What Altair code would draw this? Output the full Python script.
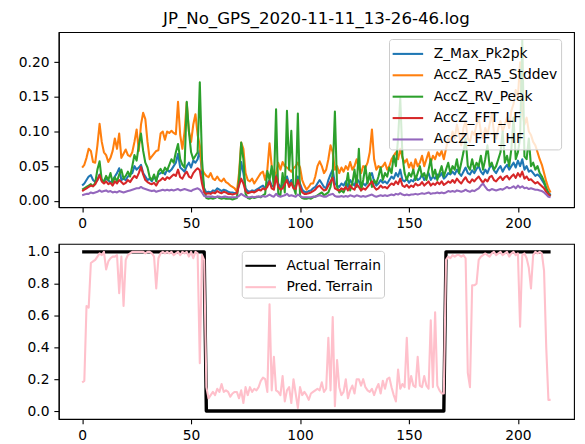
import altair as alt
import pandas as pd

TITLE = "JP_No_GPS_2020-11-11_13-26-46.log"
NAMES = ["Z_Max_Pk2pk", "AccZ_RA5_Stddev", "AccZ_RV_Peak", "AccZ_FFT_LF", "AccZ_FFT_HF"]
COLORS = ["#1f77b4", "#ff7f0e", "#2ca02c", "#d62728", "#9467bd"]
X_TICKS = [0, 50, 100, 150, 200]
TOP_TICKS = [0.0, 0.05, 0.10, 0.15, 0.20]
BOT_TICKS = [0.0, 0.2, 0.4, 0.6, 0.8, 1.0]

z_max_pk2pk = [
    0.022, 0.025, 0.030, 0.035, 0.037, 0.030, 0.027, 0.030, 0.038, 0.030,
    0.028, 0.032, 0.030, 0.026, 0.030, 0.035, 0.040, 0.047, 0.030, 0.032,
    0.030, 0.035, 0.038, 0.040, 0.050, 0.045, 0.048, 0.052, 0.040, 0.035,
    0.030, 0.032, 0.028, 0.035, 0.030, 0.038, 0.040, 0.042, 0.038, 0.045,
    0.042, 0.045, 0.050, 0.055, 0.068, 0.048, 0.045, 0.042, 0.050, 0.055,
    0.048, 0.058, 0.055, 0.060, 0.073, 0.040, 0.018, 0.012, 0.013, 0.012,
    0.015, 0.014, 0.018, 0.016, 0.014, 0.016, 0.015, 0.013, 0.012, 0.012,
    0.011, 0.012, 0.025, 0.056, 0.040, 0.018, 0.014, 0.013, 0.015, 0.014,
    0.016, 0.018, 0.020, 0.022, 0.018, 0.025, 0.030, 0.022, 0.020, 0.040,
    0.025, 0.020, 0.022, 0.028, 0.035, 0.024, 0.030, 0.022, 0.020, 0.035,
    0.025, 0.016, 0.013, 0.012, 0.014, 0.015, 0.018, 0.020, 0.025, 0.030,
    0.025, 0.020, 0.018, 0.030, 0.038, 0.045, 0.025, 0.022, 0.020, 0.025,
    0.022, 0.028, 0.020, 0.030, 0.025, 0.022, 0.032, 0.028, 0.020, 0.025,
    0.022, 0.028, 0.035, 0.040, 0.028, 0.022, 0.025, 0.030, 0.026, 0.028,
    0.025, 0.030, 0.035, 0.032, 0.040, 0.035, 0.045, 0.030, 0.028, 0.032,
    0.026, 0.030, 0.028, 0.035, 0.030, 0.032, 0.038, 0.030, 0.035, 0.040,
    0.030, 0.035, 0.032, 0.038, 0.035, 0.040, 0.032, 0.035, 0.040, 0.038,
    0.042, 0.038, 0.045, 0.040, 0.036, 0.042, 0.048, 0.040, 0.038, 0.044,
    0.040, 0.046, 0.050, 0.042, 0.038, 0.045, 0.040, 0.048, 0.052, 0.044,
    0.040, 0.046, 0.050, 0.042, 0.048, 0.052, 0.045, 0.050, 0.055, 0.048,
    0.058, 0.050, 0.060, 0.045, 0.050, 0.042, 0.044, 0.040, 0.036, 0.038,
    0.035, 0.030, 0.025, 0.018, 0.012, 0.008,
]

accz_ra5_stddev = [
    0.048, 0.052, 0.062, 0.075, 0.072, 0.056, 0.055, 0.080, 0.111, 0.085,
    0.070, 0.066, 0.056, 0.062, 0.072, 0.090, 0.075, 0.097, 0.062, 0.068,
    0.074, 0.066, 0.064, 0.070, 0.085, 0.103, 0.072, 0.110, 0.127, 0.118,
    0.085, 0.060, 0.064, 0.068, 0.072, 0.073, 0.097, 0.100, 0.088, 0.100,
    0.098, 0.101, 0.098, 0.096, 0.143, 0.095, 0.075, 0.100, 0.142, 0.100,
    0.085, 0.110, 0.125, 0.095, 0.080, 0.045, 0.040, 0.036, 0.034, 0.040,
    0.032, 0.030, 0.035, 0.030, 0.028, 0.032, 0.027, 0.025, 0.022, 0.020,
    0.018, 0.013, 0.040, 0.084, 0.075, 0.040, 0.030, 0.028, 0.032, 0.025,
    0.030, 0.035, 0.040, 0.042, 0.030, 0.045, 0.083, 0.050, 0.035, 0.040,
    0.055, 0.045, 0.056, 0.050, 0.048, 0.045, 0.042, 0.047, 0.050, 0.055,
    0.048, 0.030, 0.022, 0.016, 0.020, 0.025, 0.025, 0.035, 0.050, 0.057,
    0.050, 0.040, 0.045, 0.060, 0.080, 0.070, 0.045, 0.050, 0.040, 0.048,
    0.042, 0.050, 0.045, 0.056, 0.045, 0.050, 0.060, 0.047, 0.040, 0.050,
    0.048, 0.055, 0.070, 0.103, 0.060, 0.045, 0.050, 0.048, 0.050, 0.055,
    0.045, 0.050, 0.060, 0.065, 0.070, 0.060, 0.075, 0.062, 0.055, 0.060,
    0.048, 0.055, 0.045, 0.060, 0.050, 0.055, 0.065, 0.050, 0.060, 0.070,
    0.055, 0.065, 0.060, 0.070, 0.065, 0.072, 0.060, 0.075, 0.090, 0.085,
    0.100, 0.090, 0.110, 0.095, 0.080, 0.105, 0.115, 0.090, 0.085, 0.100,
    0.095, 0.110, 0.120, 0.100, 0.090, 0.105, 0.095, 0.110, 0.125, 0.100,
    0.090, 0.105, 0.115, 0.100, 0.110, 0.120, 0.105, 0.130, 0.140, 0.160,
    0.150, 0.200, 0.130, 0.110, 0.120, 0.100, 0.095, 0.085, 0.080, 0.070,
    0.060, 0.052, 0.040, 0.028, 0.018, 0.012,
]

accz_rv_peak = [
    0.016, 0.018, 0.020, 0.022, 0.024, 0.021, 0.026, 0.045, 0.057, 0.030,
    0.028, 0.036, 0.030, 0.040, 0.026, 0.034, 0.028, 0.038, 0.045, 0.032,
    0.036, 0.042, 0.035, 0.050, 0.066, 0.058, 0.080, 0.097, 0.072, 0.055,
    0.048, 0.034, 0.030, 0.038, 0.028, 0.042, 0.046, 0.040, 0.048, 0.044,
    0.052, 0.060, 0.055, 0.070, 0.082, 0.060, 0.052, 0.048, 0.143, 0.100,
    0.070, 0.060, 0.065, 0.070, 0.171, 0.060, 0.015, 0.004, 0.003, 0.004,
    0.003, 0.004, 0.006, 0.004, 0.003, 0.004, 0.003, 0.003, 0.003, 0.002,
    0.003, 0.004, 0.030, 0.084, 0.060, 0.010, 0.004, 0.003, 0.005, 0.004,
    0.005, 0.006, 0.005, 0.008, 0.010, 0.043, 0.030, 0.050, 0.020, 0.132,
    0.010, 0.008, 0.040, 0.012, 0.130, 0.045, 0.101, 0.020, 0.010, 0.126,
    0.007, 0.004, 0.003, 0.003, 0.004, 0.003, 0.005, 0.006, 0.008, 0.010,
    0.012, 0.008, 0.010, 0.012, 0.020, 0.040, 0.129, 0.020, 0.012, 0.015,
    0.012, 0.020, 0.040, 0.015, 0.025, 0.045, 0.020, 0.075, 0.015, 0.030,
    0.050, 0.025, 0.040, 0.020, 0.030, 0.025, 0.035, 0.048, 0.030, 0.040,
    0.035, 0.048, 0.040, 0.065, 0.050, 0.090, 0.148, 0.065, 0.040, 0.030,
    0.040, 0.035, 0.045, 0.030, 0.040, 0.050, 0.035, 0.040, 0.030, 0.045,
    0.060, 0.035, 0.045, 0.030, 0.040, 0.050, 0.035, 0.045, 0.055, 0.040,
    0.050, 0.045, 0.060, 0.040, 0.055, 0.070, 0.090, 0.050, 0.045, 0.060,
    0.045, 0.055, 0.050, 0.065, 0.045, 0.060, 0.080, 0.050, 0.055, 0.045,
    0.050, 0.060, 0.070, 0.100, 0.055, 0.065, 0.050, 0.075, 0.120, 0.060,
    0.070, 0.090, 0.232, 0.064, 0.060, 0.090, 0.050, 0.055, 0.045, 0.050,
    0.040, 0.035, 0.028, 0.018, 0.010, 0.007,
]

accz_fft_lf = [
    0.014, 0.016, 0.018, 0.020, 0.022, 0.021, 0.024, 0.030, 0.037, 0.028,
    0.025, 0.028, 0.024, 0.026, 0.022, 0.028, 0.025, 0.030, 0.027, 0.024,
    0.026, 0.030, 0.027, 0.032, 0.036, 0.033, 0.040, 0.049, 0.038, 0.030,
    0.027, 0.025, 0.024, 0.026, 0.022, 0.028, 0.030, 0.033, 0.030, 0.034,
    0.032, 0.035, 0.038, 0.036, 0.045, 0.034, 0.032, 0.038, 0.042, 0.035,
    0.033, 0.040, 0.044, 0.047, 0.044, 0.025, 0.012, 0.010, 0.011, 0.010,
    0.012, 0.011, 0.014, 0.012, 0.011, 0.013, 0.012, 0.010, 0.010, 0.009,
    0.010, 0.011, 0.022, 0.032, 0.025, 0.014, 0.011, 0.012, 0.013, 0.012,
    0.014, 0.016, 0.015, 0.018, 0.016, 0.020, 0.028, 0.018, 0.016, 0.035,
    0.020, 0.016, 0.018, 0.024, 0.030, 0.020, 0.026, 0.018, 0.017, 0.030,
    0.020, 0.012, 0.010, 0.010, 0.011, 0.012, 0.014, 0.016, 0.020, 0.022,
    0.018, 0.015, 0.016, 0.022, 0.028, 0.033, 0.018, 0.016, 0.015, 0.018,
    0.016, 0.020, 0.015, 0.022, 0.018, 0.016, 0.024, 0.020, 0.015, 0.018,
    0.016, 0.020, 0.024, 0.028, 0.020, 0.016, 0.018, 0.022, 0.019, 0.020,
    0.018, 0.022, 0.025, 0.023, 0.028, 0.024, 0.032, 0.022, 0.020, 0.023,
    0.019, 0.022, 0.020, 0.025, 0.022, 0.023, 0.027, 0.022, 0.025, 0.028,
    0.022, 0.025, 0.023, 0.027, 0.024, 0.028, 0.023, 0.025, 0.028, 0.026,
    0.030, 0.026, 0.032, 0.028, 0.025, 0.030, 0.034, 0.028, 0.026, 0.031,
    0.028, 0.032, 0.035, 0.030, 0.026, 0.031, 0.028, 0.034, 0.036, 0.030,
    0.028, 0.032, 0.035, 0.030, 0.034, 0.036, 0.031, 0.035, 0.038, 0.033,
    0.040, 0.035, 0.042, 0.032, 0.035, 0.030, 0.031, 0.028, 0.025, 0.027,
    0.024, 0.021, 0.018, 0.013, 0.009, 0.007,
]

accz_fft_hf = [
    0.008, 0.009, 0.010, 0.010, 0.012, 0.011, 0.012, 0.013, 0.015, 0.013,
    0.014, 0.015, 0.013, 0.014, 0.012, 0.013, 0.012, 0.014, 0.013, 0.012,
    0.013, 0.014, 0.015, 0.016, 0.017, 0.018, 0.018, 0.020, 0.018, 0.017,
    0.016, 0.015, 0.014, 0.015, 0.013, 0.014, 0.015, 0.016, 0.015, 0.016,
    0.015, 0.016, 0.015, 0.016, 0.017, 0.015, 0.016, 0.017, 0.016, 0.015,
    0.014, 0.016, 0.017, 0.018, 0.016, 0.012, 0.007, 0.006, 0.006, 0.006,
    0.006, 0.005, 0.006, 0.006, 0.005, 0.006, 0.006, 0.005, 0.005, 0.005,
    0.005, 0.005, 0.007, 0.010, 0.008, 0.006, 0.005, 0.005, 0.006, 0.005,
    0.006, 0.006, 0.006, 0.007, 0.006, 0.007, 0.009, 0.007, 0.006, 0.010,
    0.007, 0.006, 0.007, 0.008, 0.010, 0.007, 0.008, 0.007, 0.006, 0.009,
    0.007, 0.005, 0.005, 0.005, 0.005, 0.005, 0.006, 0.006, 0.007, 0.008,
    0.007, 0.006, 0.006, 0.008, 0.009, 0.010, 0.007, 0.006, 0.006, 0.007,
    0.006, 0.007, 0.006, 0.008, 0.007, 0.006, 0.008, 0.007, 0.006, 0.007,
    0.006, 0.007, 0.008, 0.009, 0.007, 0.006, 0.007, 0.008, 0.007, 0.008,
    0.007, 0.008, 0.009, 0.008, 0.010, 0.009, 0.011, 0.009, 0.008, 0.009,
    0.008, 0.009, 0.009, 0.010, 0.009, 0.010, 0.011, 0.010, 0.011, 0.012,
    0.010, 0.011, 0.011, 0.012, 0.011, 0.012, 0.011, 0.012, 0.014, 0.013,
    0.014, 0.013, 0.015, 0.014, 0.013, 0.014, 0.016, 0.014, 0.013, 0.015,
    0.014, 0.016, 0.018, 0.022, 0.025, 0.020, 0.016, 0.015, 0.017, 0.016,
    0.015, 0.016, 0.017, 0.016, 0.018, 0.020, 0.018, 0.019, 0.021, 0.018,
    0.022, 0.019, 0.021, 0.018, 0.019, 0.017, 0.018, 0.017, 0.016, 0.016,
    0.015, 0.014, 0.012, 0.009, 0.006, 0.005,
]

# Actual terrain: rough (1) for samples 0-56, smooth (0) for 57-166, rough for 167-215
actual_terrain = [1] * 57 + [0] * 110 + [1] * 49

pred_terrain = [
    0.18, 0.19, 0.66, 0.65, 0.93, 0.94, 0.95, 0.97, 0.99, 0.98,
    1.00, 0.89, 0.94, 0.96, 0.97, 0.97, 0.98, 0.74, 0.97, 0.66,
    0.95, 0.98, 0.99, 1.00, 1.00, 1.00, 1.00, 1.00, 1.00, 0.99,
    1.00, 1.00, 0.99, 0.97, 0.77, 0.96, 0.99, 1.00, 0.99, 1.00,
    0.99, 1.00, 0.98, 0.99, 1.00, 0.98, 1.00, 0.99, 1.00, 0.97,
    1.00, 0.96, 1.00, 0.99, 0.30, 0.98, 0.95, 0.15, 0.08, 0.10,
    0.12, 0.10, 0.14, 0.12, 0.17, 0.12, 0.13, 0.12, 0.09, 0.11,
    0.12, 0.12, 0.08, 0.13, 0.05, 0.15, 0.10, 0.15, 0.12, 0.14,
    0.13, 0.15, 0.19, 0.21, 0.20, 0.12, 0.67, 0.13, 0.34, 0.13,
    0.12, 0.10, 0.22, 0.06, 0.13, 0.15, 0.05, 0.20, 0.11, 0.02,
    0.15, 0.10, 0.12, 0.10, 0.07, 0.11, 0.12, 0.13, 0.14, 0.13,
    0.18, 0.12, 0.14, 0.46, 0.13, 0.59, 0.03, 0.32, 0.15, 0.10,
    0.12, 0.20, 0.08, 0.13, 0.16, 0.11, 0.20, 0.20, 0.16, 0.20,
    0.15, 0.13, 0.12, 0.14, 0.10, 0.14, 0.17, 0.11, 0.19, 0.14,
    0.20, 0.21, 0.15, 0.10, 0.06, 0.26, 0.14, 0.17, 0.15, 0.46,
    0.14, 0.22, 0.16, 0.15, 0.34, 0.16, 0.15, 0.22, 0.16, 0.14,
    0.57, 0.15, 0.62, 0.16, 0.13, 0.11, 0.11, 0.95, 0.97, 0.96,
    0.98, 0.97, 0.98, 0.98, 0.97, 0.98, 0.96, 0.24, 0.15, 0.79,
    0.79, 0.80, 0.95, 0.97, 0.98, 0.99, 0.98, 0.97, 0.99, 1.00,
    0.98, 0.99, 1.00, 0.98, 0.99, 1.00, 0.97, 0.99, 1.00, 0.98,
    0.99, 0.53, 0.98, 0.99, 0.96, 0.90, 0.77, 0.98, 1.00, 0.99,
    1.00, 0.99, 0.88, 0.40, 0.07, 0.07,
]

SERIES = [z_max_pk2pk, accz_ra5_stddev, accz_rv_peak, accz_fft_lf, accz_fft_hf]
N = len(actual_terrain)
for s in SERIES + [pred_terrain]:
    assert len(s) == N, len(s)

idx = list(range(N))
FONT = "DejaVu Sans"
LINE_W = 2.08

x_enc = alt.X(
    "idx:Q",
    scale=alt.Scale(domain=[-10.75, 225.75], nice=False, zero=False),
    axis=alt.Axis(values=X_TICKS, title=None, format="d"),
)

legend_common = dict(
    title=None,
    orient="none",
    labelFont=FONT,
    labelFontSize=13.9,
    labelColor="black",
    symbolType="M-1.4,0L1.4,0",
    symbolSize=480,
    symbolStrokeWidth=LINE_W,
    symbolOffset=4,
    labelOffset=14,
    padding=3,
    rowPadding=2.5,
    fillColor="rgba(255,255,255,0.8)",
    strokeColor="#cccccc",
    cornerRadius=3,
)

# ---- top panel ----
top_layers = []
for name, vals in zip(NAMES, SERIES):
    df = pd.DataFrame({"idx": idx, "value": vals, "series": name})
    top_layers.append(
        alt.Chart(df)
        .mark_line(strokeWidth=LINE_W, strokeJoin="round")
        .encode(
            x=x_enc,
            y=alt.Y(
                "value:Q",
                scale=alt.Scale(domain=[-0.0091, 0.2436], nice=False, zero=False),
                axis=alt.Axis(values=TOP_TICKS, format=".2f", title=None),
            ),
            color=alt.Color(
                "series:N",
                scale=alt.Scale(domain=NAMES, range=COLORS),
                sort=NAMES,
                legend=alt.Legend(legendX=332, legendY=7, **legend_common),
            ),
        )
    )

top = alt.layer(*top_layers).properties(width=518, height=176)

# ---- bottom panel ----
BOT_NAMES = ["Actual Terrain", "Pred. Terrain"]
BOT_COLORS = ["black", "pink"]
bot_layers = []
for name, vals, w in zip(BOT_NAMES, [actual_terrain, pred_terrain], [3.4, 2.1]):
    df = pd.DataFrame({"idx": idx, "value": vals, "series": name})
    bot_layers.append(
        alt.Chart(df)
        .mark_line(strokeWidth=w, strokeJoin="round")
        .encode(
            x=x_enc,
            y=alt.Y(
                "value:Q",
                scale=alt.Scale(domain=[-0.05, 1.05], nice=False, zero=False),
                axis=alt.Axis(values=BOT_TICKS, format=".1f", title=None),
            ),
            color=alt.Color(
                "series:N",
                scale=alt.Scale(domain=BOT_NAMES, range=BOT_COLORS),
                sort=BOT_NAMES,
                legend=alt.Legend(legendX=184, legendY=7, **legend_common),
            ),
        )
    )

bottom = alt.layer(*bot_layers).properties(width=518, height=176)

chart = (
    alt.vconcat(
        top,
        bottom,
        spacing=11,
        title=alt.TitleParams(
            TITLE,
            font=FONT,
            fontSize=16.7,
            fontWeight="normal",
            color="black",
            anchor="middle",
            frame="bounds",
            baseline="alphabetic",
            offset=-8.7,
            dx=22.5,
        ),
    )
    .resolve_scale(color="independent")
    .properties(padding={"left": 5, "top": 1, "right": 2, "bottom": 0})
    .configure_view(stroke="black", strokeWidth=1.1)
    .configure_axis(
        grid=False,
        domainColor="black",
        domainWidth=1.1,
        tickColor="black",
        tickWidth=1.1,
        tickSize=4.9,
        labelPadding=4.9,
        labelFont=FONT,
        labelFontSize=13.9,
        labelColor="black",
    )
    .configure_axisY(minExtent=45)
    .configure_axisX(labelFlush=False, minExtent=0)
)

chart.save("out.html", embed_options={"renderer": "svg", "actions": False})
